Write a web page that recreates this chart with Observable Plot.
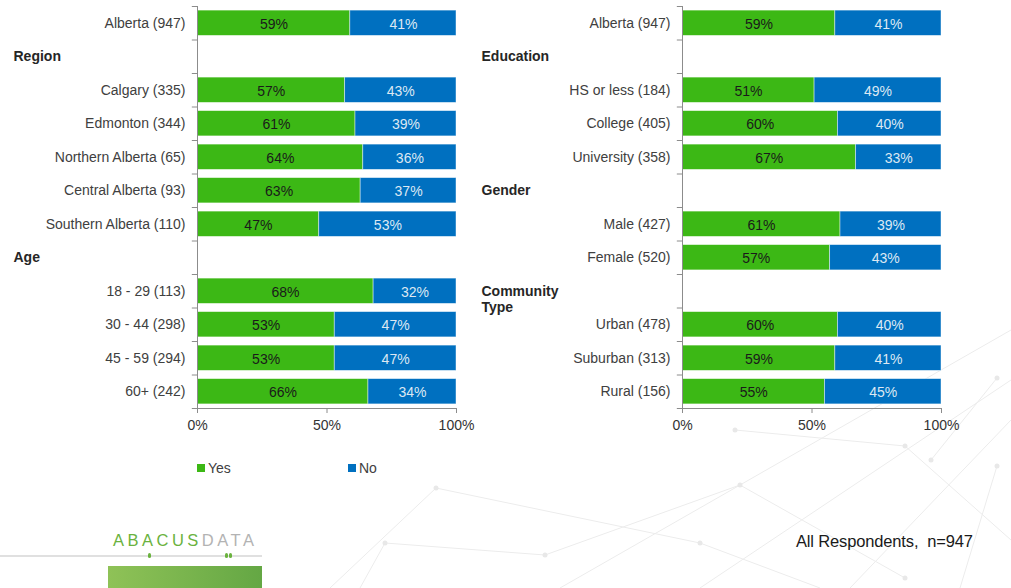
<!DOCTYPE html>
<html>
<head>
<meta charset="utf-8">
<script src="https://cdn.jsdelivr.net/npm/d3@7"></script>
<script src="https://cdn.jsdelivr.net/npm/@observablehq/plot@0.6"></script>
<style>
  html, body { margin: 0; padding: 0; background: #fff; overflow: hidden; }
  body { width: 1011px; height: 588px; position: relative; font-family: "Liberation Sans", Arial, sans-serif; }
  .abs { position: absolute; }
  .legend { font-size: 14px; color: #404040; display: flex; align-items: center; }
  .sw { width: 8px; height: 8px; margin-right: 3px; }
</style>
</head>
<body>
<svg class="abs" style="left:0;top:0" width="1011" height="588" id="bg"></svg>
<div class="abs" id="left" style="left:0;top:0"></div>
<div class="abs" id="right" style="left:470px;top:0"></div>
<div class="abs legend" style="left:197px;top:460px"><div class="sw" style="background:#3cb815"></div>Yes</div>
<div class="abs legend" style="left:348px;top:460px"><div class="sw" style="background:#0070c0"></div>No</div>
<div class="abs" style="left:113px;top:531px;font-size:16.5px;letter-spacing:3.5px;"><span style="color:#6ab23e">ABACUS</span><span style="color:#b3b3b3">DATA</span></div>
<div class="abs" style="left:0;top:555px;width:262px;height:2px;background:#e0e0e0"></div>
<div class="abs" style="left:148px;top:553px;width:3px;height:5px;border-radius:2px;background:#6ab23e"></div>
<div class="abs" style="left:225px;top:553px;width:3px;height:5px;border-radius:2px;background:#6ab23e"></div>
<div class="abs" style="left:229px;top:553px;width:3px;height:5px;border-radius:2px;background:#6ab23e"></div>
<div class="abs" style="left:108px;top:566px;width:154px;height:22px;background:linear-gradient(90deg,#8fc257,#64a744)"></div>
<div class="abs" style="left:796px;top:532px;font-size:16.5px;color:#1a1a1a;letter-spacing:-0.15px">All Respondents,&nbsp; n=947</div>
<script>
// ---------- data ----------
const leftLabels = ["Alberta (947)", "Region", "Calgary (335)", "Edmonton (344)", "Northern Alberta (65)", "Central Alberta (93)", "Southern Alberta (110)", "Age", "18 - 29 (113)", "30 - 44 (298)", "45 - 59 (294)", "60+ (242)"];
const leftHeader = [false, true, false, false, false, false, false, true, false, false, false, false];
const leftYes = [59, null, 57, 61, 64, 63, 47, null, 68, 53, 53, 66];
const leftNo  = [41, null, 43, 39, 36, 37, 53, null, 32, 47, 47, 34];

const rightLabels = ["Alberta (947)", "Education", "HS or less (184)", "College (405)", "University (358)", "Gender", "Male (427)", "Female (520)", "Community\nType", "Urban (478)", "Suburban (313)", "Rural (156)"];
const rightHeader = [false, true, false, false, false, true, false, false, true, false, false, false];
const rightYes = [59, null, 51, 60, 67, null, 61, 57, null, 60, 59, 55];
const rightNo  = [41, null, 49, 40, 33, null, 39, 43, null, 40, 41, 45];

const answers = ["Yes", "No"];
const xTicks = [0, 50, 100];
const colors = {Yes: "#3cb815", No: "#0070c0"};
const textColors = {Yes: "#1a1a1a", No: "#dde8f3"};

// ---------- chart builder ----------
function panel({labels, header, yes, no, width, marginLeft, marginRight, headerDx}) {
  const height = 445, marginTop = 6, marginBottom = 37;
  const n = labels.length;
  const step = (height - marginTop - marginBottom) / n;
  const idx = d3.range(n);
  const rows = [];
  idx.forEach(i => {
    if (header[i]) return;
    rows.push({i, answer: "Yes", value: yes[i]});
    rows.push({i, answer: "No", value: no[i]});
  });
  const heads = idx.filter(i => header[i]);
  return Plot.plot({
    width, height, marginTop, marginBottom, marginLeft, marginRight,
    style: {fontFamily: "'Liberation Sans', Arial, sans-serif", fontSize: "14px", color: "#404040", background: "transparent"},
    x: {domain: [0, 100], label: null},
    y: {type: "band", domain: idx, padding: 0, round: false, label: null},
    marks: [
      Plot.barX(rows, Plot.stackX({x: "value", y: "i", z: "answer", fill: d => colors[d.answer], insetTop: 4.1, insetBottom: 4.1, stroke: "#ffffff", strokeOpacity: 0.55, strokeWidth: 0.8})),
      Plot.text(rows, Plot.stackX({x: "value", y: "i", z: "answer", text: d => d.value + "%", fill: d => textColors[d.answer], fontSize: 14, dy: 1})),
      Plot.ruleX([0], {stroke: "#8c8c8c"}),
      Plot.ruleY(idx, {y: d => d, x1: -2, x2: 0, dy: -step / 2, stroke: "#8c8c8c"}),
      Plot.ruleY([n - 1], {y: d => d, x1: -2, x2: 100, dy: step / 2, stroke: "#8c8c8c"}),
      Plot.axisY({tickSize: 0, tickPadding: 12, tickFormat: i => header[i] ? "" : labels[i], fill: "#404040", label: null}),
      Plot.axisX({ticks: xTicks, tickSize: 5, tickPadding: 7, tickFormat: d => d + "%", stroke: "#8c8c8c", fill: "#333", fontSize: 14, label: null}),
      Plot.text(heads, {y: d => d, text: d => labels[d], frameAnchor: "left", textAnchor: "start", lineAnchor: "top", dy: -7, dx: headerDx, fontWeight: "bold", fill: "#262626", lineHeight: 1.15})
    ]
  });
}

document.getElementById("left").append(panel({labels: leftLabels, header: leftHeader, yes: leftYes, no: leftNo, width: 480, marginLeft: 197, marginRight: 24, headerDx: -184}));
document.getElementById("right").append(panel({labels: rightLabels, header: rightHeader, yes: rightYes, no: rightNo, width: 541, marginLeft: 212, marginRight: 70, headerDx: -201}));

// ---------- faint decorative background lines ----------
const bg = d3.select("#bg");
const segs = [
  [[436,488],[700,543]], [[385,543],[545,555]], [[545,555],[740,485]], [[740,485],[905,578]],
  [[735,430],[905,446]], [[905,446],[1011,540]], [[560,588],[1011,330]], [[700,588],[1011,380]],
  [[436,488],[330,588]], [[385,543],[360,588]], [[931,460],[997,378]], [[997,466],[960,588]],
  [[700,543],[820,588]], [[850,588],[1011,420]]
];
segs.forEach(([a,b]) => bg.append("line").attr("x1",a[0]).attr("y1",a[1]).attr("x2",b[0]).attr("y2",b[1]).attr("stroke","#ececec").attr("stroke-width",1));
[[436,488],[385,543],[545,555],[740,485],[700,543],[735,430],[905,446],[931,460],[997,378],[997,466],[905,578]]
  .forEach(p => bg.append("circle").attr("cx",p[0]).attr("cy",p[1]).attr("r",2.5).attr("fill","#e8e8e8"));
</script>
</body>
</html>
